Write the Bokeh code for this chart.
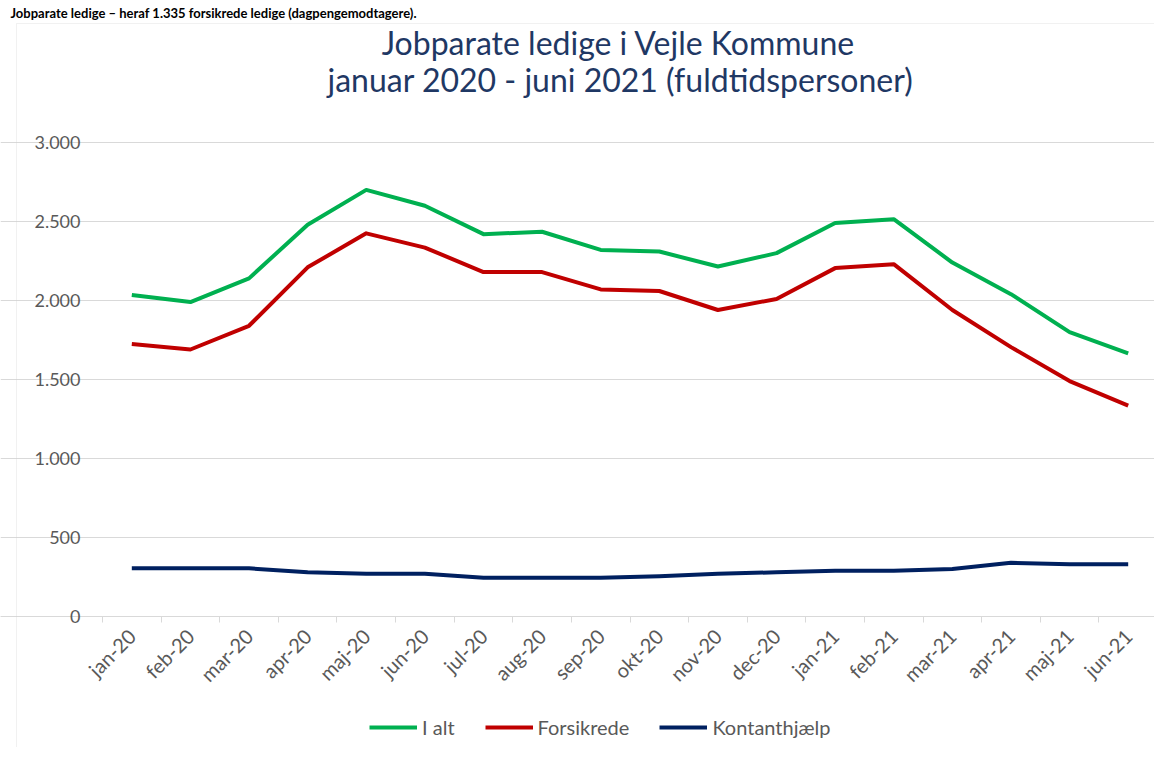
import math
from bokeh.plotting import figure
from bokeh.models import (FixedTicker, CustomJSTickFormatter, Legend, LegendItem,
                          Range1d, Label, BoxAnnotation)
from bokeh.embed import file_html
from bokeh.resources import INLINE

# ---------------- data ----------------
months = ["jan-20", "feb-20", "mar-20", "apr-20", "maj-20", "jun-20", "jul-20",
          "aug-20", "sep-20", "okt-20", "nov-20", "dec-20", "jan-21", "feb-21",
          "mar-21", "apr-21", "maj-21", "jun-21"]
i_alt = [2035, 1990, 2140, 2480, 2700, 2600, 2420, 2435, 2320, 2310, 2215, 2300,
         2490, 2515, 2240, 2040, 1800, 1665]
forsikrede = [1725, 1690, 1840, 2210, 2425, 2335, 2180, 2180, 2070, 2060, 1940, 2010,
              2205, 2230, 1940, 1705, 1490, 1335]
kontanthjaelp = [305, 305, 305, 280, 270, 270, 245, 245, 245, 255, 270, 280,
                 290, 290, 300, 340, 330, 330]
series_names = ["I alt", "Forsikrede", "Kontanthjælp"]
y_ticks = [0, 500, 1000, 1500, 2000, 2500, 3000]

title_line1 = "Jobparate ledige i Vejle Kommune"
title_line2 = "januar 2020 - juni 2021 (fuldtidspersoner)"
header_text = "Jobparate ledige \u2013 heraf 1.335 forsikrede ledige (dagpengemodtagere)."

# ---------------- style / layout ----------------
FONT = "Lato"
GREEN, RED, NAVY = "#00B050", "#C00000", "#002060"
GRID = "#d9d9d9"
TXT = "#595959"
TITLE_C = "#1F3864"
W, H = 1154, 747
# plot area in canvas pixels (as in the reference picture)
PX_LEFT, PX_RIGHT = 102, 1157     # first / last category boundary
PY_TOP, PY_ZERO = 142, 616        # y = 3000 and y = 0
N = len(months)
YMAX = y_ticks[-1]
kx = (PX_RIGHT - PX_LEFT) / N     # px per category
ky = (PY_ZERO - PY_TOP) / YMAX    # px per unit


def dx(px):      # canvas x pixel -> data x
    return (px - PX_LEFT) / kx


def dy(py):      # canvas y pixel -> data y
    return (PY_ZERO - py) / ky


xs = [i + 0.5 for i in range(N)]

p = figure(width=W, height=H, output_backend="svg", toolbar_location=None,
           x_range=Range1d(dx(0), dx(W)), y_range=Range1d(dy(H), dy(0)),
           min_border_left=0, min_border_right=0, min_border_top=0,
           min_border_bottom=0)
p.outline_line_color = None

r1 = p.line(xs, i_alt, line_color=GREEN, line_width=4, line_join="round")
r2 = p.line(xs, forsikrede, line_color=RED, line_width=4, line_join="round")
r3 = p.line(xs, kontanthjaelp, line_color=NAVY, line_width=4, line_join="round")

# x axis, fixed at y = 0
p.xaxis.fixed_location = 0
p.xaxis.ticker = FixedTicker(ticks=xs, minor_ticks=list(range(N + 1)))
p.xaxis.formatter = CustomJSTickFormatter(args=dict(labels=months),
                                          code="return labels[Math.floor(tick)] || '';")
p.xaxis.major_label_orientation = math.pi / 4
p.xaxis.major_tick_line_color = None
p.xaxis.major_tick_out = 0
p.xaxis.major_tick_in = 0
p.xaxis.minor_tick_in = 0
p.xaxis.minor_tick_out = 6
p.xaxis.minor_tick_line_color = GRID
p.xaxis.axis_line_color = GRID
p.xaxis.major_label_standoff = 10
p.xaxis.major_label_text_font = FONT
p.xaxis.major_label_text_font_size = "20px"
p.xaxis.major_label_text_color = TXT
p.xgrid.visible = False

# y axis, fixed at x = 0
p.yaxis.fixed_location = 0
p.yaxis.ticker = FixedTicker(ticks=y_ticks)
p.yaxis.formatter = CustomJSTickFormatter(
    code="return Math.round(tick).toString().replace(/\\B(?=(\\d{3})+(?!\\d))/g, '.');")
p.yaxis.axis_line_color = None
p.yaxis.major_tick_line_color = None
p.yaxis.major_tick_out = 0
p.yaxis.major_tick_in = 0
p.yaxis.minor_tick_line_color = None
p.yaxis.major_label_standoff = 22
p.yaxis.major_label_text_font = FONT
p.yaxis.major_label_text_font_size = "18px"
p.yaxis.major_label_text_color = TXT
p.ygrid.ticker = FixedTicker(ticks=y_ticks)
p.ygrid.grid_line_color = GRID
p.ygrid.grid_line_width = 1
p.ygrid.bounds = (0, YMAX)

# chart area border (Excel chart frame)
p.add_layout(BoxAnnotation(left=dx(16), top=dy(23), fill_alpha=0,
                           line_color="#d0d0d0", line_width=1))

# header and titles
p.add_layout(Label(x=dx(10), y=dy(12), text=header_text, text_font=FONT,
                   text_font_style="bold", text_font_size="13px", text_color="black",
                   text_baseline="alphabetic", text_align="left"))
p.add_layout(Label(x=dx(618), y=dy(42), text=title_line1, text_font=FONT,
                   text_font_size="32px", text_color=TITLE_C,
                   text_baseline="alphabetic", text_align="center"))
p.add_layout(Label(x=dx(620), y=dy(79), text=title_line2, text_font=FONT,
                   text_font_size="32px", text_color=TITLE_C,
                   text_baseline="alphabetic", text_align="center"))

legend = Legend(items=[LegendItem(label=series_names[0], renderers=[r1]),
                       LegendItem(label=series_names[1], renderers=[r2]),
                       LegendItem(label=series_names[2], renderers=[r3])],
                orientation="horizontal",
                location=(369, H - 739),
                glyph_width=48, glyph_height=20, label_standoff=5, spacing=30,
                padding=0, margin=0, border_line_color=None,
                background_fill_alpha=0, label_text_font=FONT,
                label_text_font_size="20px", label_text_color=TXT)
p.add_layout(legend)

open("out.html", "w").write(file_html(p, INLINE))
